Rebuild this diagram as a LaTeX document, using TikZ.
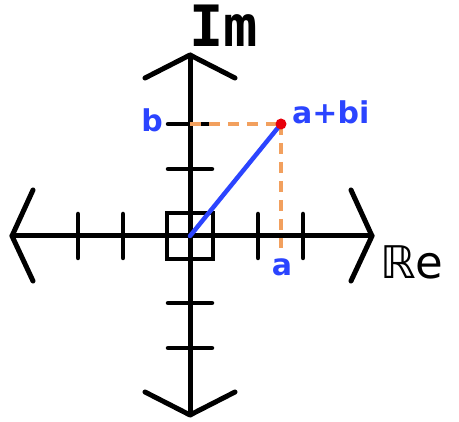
\documentclass[tikz,border=0pt]{standalone}
\usepackage{fontspec}
\newfontfamily\lblfont{DejaVu Sans}
\newfontfamily\axfont{DejaVu Sans Mono}
\definecolor{vblue}{HTML}{2B44FF}
\definecolor{dorange}{HTML}{F2A05E}
\definecolor{dotred}{HTML}{E8000B}
\begin{document}
\begin{tikzpicture}[x=1pt,y=-1pt,
  axis/.style={line width=5pt,line cap=round,line join=round,black},
  tick/.style={line width=4.5pt,line cap=round,black},
  guide/.style={line width=4pt,dorange,dash pattern=on 11pt off 8pt},
  vec/.style={line width=4.5pt,vblue,line cap=round},
  lbl/.style={text=vblue,font=\lblfont\bfseries\fontsize{30}{30}\selectfont,inner sep=0pt}]
\useasboundingbox (0,0) rectangle (459,422);
\coordinate (O) at (190,236);
\coordinate (L) at (12,236);
\coordinate (R) at (372,236);
\coordinate (T) at (190,55);
\coordinate (B) at (190,415);
\coordinate (P) at (281,124);
\coordinate (Pb) at (190,124);
\coordinate (Pa) at (281,248);
% axes
\draw[axis] (L) -- (R);
\draw[axis] (T) -- (B);
% arrow heads
\draw[axis] (33,190) -- (L) -- (33,281);
\draw[axis] (351,190) -- (R) -- (351,281);
\draw[axis] (145,78) -- (T) -- (235,78);
\draw[axis] (145,392) -- (B) -- (235,392);
% ticks
\foreach \x in {78,123,258,303} \draw[tick] (\x,214) -- (\x,258);
\foreach \y in {124,169,303,348} \draw[tick] (168,\y) -- (212,\y);
% origin square
\draw[line width=4pt,black] (167,213) rectangle (213,259);
% guides
\draw[guide] (Pb) -- (P);
\draw[guide] (P) -- (Pa);
% vector
\draw[vec] (O) -- (P);
\fill[dotred] (P) circle (5.5pt);
% labels
\node[lbl] (lb) at (152,120) {b};
\node[lbl] (la) at (282,267) {a};
\node[lbl,anchor=west] (lz) at (292,112) {a+bi};
\node[inner sep=0pt,font=\axfont\bfseries\fontsize{57}{57}\selectfont] (im) at (224,26) {Im};
\node[inner sep=0pt,font=\lblfont\fontsize{45}{45}\selectfont,anchor=west] (re) at (380,262) {ℝe};
\end{tikzpicture}
\end{document}
